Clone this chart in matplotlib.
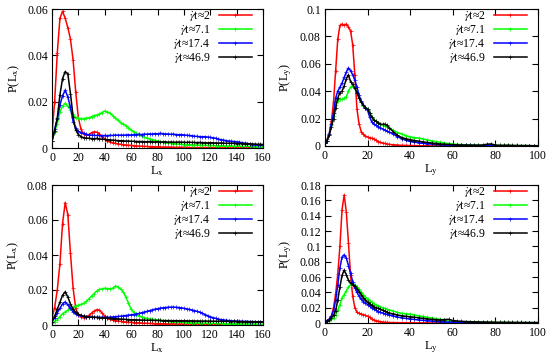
import numpy as np
import matplotlib
matplotlib.use('Agg')
import matplotlib.pyplot as plt
from matplotlib.ticker import FuncFormatter, MultipleLocator

plt.rcParams['font.family'] = 'serif'
plt.rcParams['font.serif'] = ['Liberation Serif', 'DejaVu Serif']
plt.rcParams['mathtext.fontset'] = 'stix'

# shear strains shown in the legend
labels = [r'$\dot{\gamma}$t≈2', r'$\dot{\gamma}$t≈7.1',
          r'$\dot{\gamma}$t≈17.4', r'$\dot{\gamma}$t≈46.9']
colors = ['#ff0000', '#00ff00', '#0000ff', '#000000']

# cluster sizes
lx = np.arange(0, 161, 2)
ly = np.concatenate([np.arange(0, 31), np.arange(32, 101, 2)])

# ---- top left: P(Lx) ----
tl_red = [0.006, 0.02, 0.041, 0.056, 0.059, 0.056, 0.052, 0.047, 0.038, 0.024,
          0.013, 0.008, 0.006, 0.0055, 0.0058, 0.0066, 0.007, 0.0068, 0.006, 0.0048,
          0.0038, 0.0032, 0.0027, 0.0023, 0.002, 0.0018, 0.0016, 0.0014, 0.0013, 0.0012,
          0.0011, 0.001, 0.0009, 0.0008, 0.0008, 0.0007, 0.0007, 0.0006, 0.0006, 0.0005,
          0.0005, 0.0005, 0.0004, 0.0004, 0.0004, 0.0004, 0.0003, 0.0003, 0.0003, 0.0003,
          0.0003, 0.0003, 0.0002, 0.0002, 0.0002, 0.0002, 0.0002, 0.0002, 0.0002, 0.0002,
          0.0002, 0.0002, 0.0001, 0.0001, 0.0001, 0.0001, 0.0001, 0.0001, 0.0001, 0.0001,
          0.0001, 0.0001, 0.0001, 0.0001, 0.0001, 0.0001, 0.0001, 0.0001, 0.0001, 0.0001,
          0.0001]
tl_green = [0.003, 0.007, 0.0105, 0.0157, 0.018, 0.0193, 0.018, 0.0165, 0.0145, 0.013,
            0.0128, 0.0127, 0.0127, 0.0128, 0.013, 0.0135, 0.014, 0.0142, 0.0147, 0.0153,
            0.016, 0.0155, 0.015, 0.014, 0.013, 0.012, 0.011, 0.0104, 0.0097, 0.0088,
            0.0078, 0.007, 0.0063, 0.0057, 0.0052, 0.0047, 0.0043, 0.0039, 0.0036, 0.0033,
            0.003, 0.0028, 0.0025, 0.0023, 0.0021, 0.002, 0.0019, 0.0018, 0.0017, 0.0016,
            0.0015, 0.0015, 0.0014, 0.0014, 0.0013, 0.0013, 0.0012, 0.0012, 0.0012, 0.0011,
            0.0011, 0.0011, 0.001, 0.001, 0.001, 0.0009, 0.0009, 0.0009, 0.0009, 0.0008,
            0.0008, 0.0008, 0.0008, 0.0007, 0.0007, 0.0007, 0.0007, 0.0006, 0.0006, 0.0006,
            0.0006]
tl_blue = [0.003, 0.008, 0.0125, 0.0186, 0.0225, 0.025, 0.022, 0.0175, 0.0114, 0.0085,
           0.0072, 0.0066, 0.0063, 0.0059, 0.0057, 0.0055, 0.0055, 0.0054, 0.0054, 0.0053,
           0.0054, 0.0053, 0.0055, 0.0054, 0.0056, 0.0055, 0.0056, 0.0055, 0.0056, 0.0057,
           0.0056, 0.0058, 0.0057, 0.0059, 0.0058, 0.006, 0.0059, 0.0061, 0.006, 0.0062,
           0.0061, 0.0063, 0.0062, 0.006, 0.0061, 0.0059, 0.006, 0.0058, 0.0057, 0.0058,
           0.0056, 0.0055, 0.0054, 0.0053, 0.0051, 0.005, 0.0049, 0.0048, 0.0049, 0.0047,
           0.0046, 0.0044, 0.0042, 0.0039, 0.0036, 0.0034, 0.0032, 0.003, 0.0029, 0.0028,
           0.0027, 0.0025, 0.0023, 0.0021, 0.0019, 0.0017, 0.0015, 0.0014, 0.0013, 0.0012,
           0.0012]
tl_black = [0.003, 0.0075, 0.013, 0.0229, 0.03, 0.033, 0.032, 0.0235, 0.0135, 0.0078,
            0.0058, 0.0049, 0.0045, 0.0043, 0.0042, 0.0041, 0.004, 0.0042, 0.0039, 0.0038,
            0.0037, 0.0036, 0.0035, 0.0034, 0.0033, 0.0032, 0.0031, 0.0031, 0.003, 0.003,
            0.0029, 0.0029, 0.0028, 0.0028, 0.0028, 0.0027, 0.0027, 0.0028, 0.0027, 0.0026,
            0.0027, 0.0026, 0.0026, 0.0027, 0.0025, 0.0026, 0.0025, 0.0025, 0.0026, 0.0025,
            0.0025, 0.0024, 0.0025, 0.0024, 0.0024, 0.0023, 0.0024, 0.0023, 0.0023, 0.0022,
            0.0023, 0.0022, 0.0022, 0.0021, 0.0022, 0.0021, 0.002, 0.0021, 0.002, 0.002,
            0.0019, 0.002, 0.0019, 0.0018, 0.0019, 0.0018, 0.0017, 0.0017, 0.0016, 0.0016,
            0.0015]

# ---- top right: P(Ly) ----
tr_red = [0.003, 0.005, 0.009, 0.018, 0.032, 0.055, 0.078, 0.088, 0.089, 0.088,
          0.089, 0.087, 0.084, 0.074, 0.052, 0.027, 0.016, 0.0105, 0.0085, 0.0072,
          0.0066, 0.006, 0.0057, 0.0052, 0.0042, 0.0032, 0.0026, 0.0022, 0.0019, 0.0015,
          0.0012,
          0.0009, 0.0007, 0.0005, 0.0004, 0.0003, 0.0003, 0.0002, 0.0002, 0.0002, 0.0001,
          0.0001, 0.0001, 0.0001, 0.0001, 0.0001, 0.0001, 0.0001, 0.0001, 0.0001, 0.0001,
          0.0001, 0.0001, 0.0001, 0.0001, 0.0001, 0.0001, 0.0001, 0.0001, 0.0001, 0.0001,
          0.0001, 0.0001, 0.0001, 0.0001, 0.0001]
tr_green = [0.002, 0.004, 0.008, 0.015, 0.022, 0.03, 0.033, 0.034, 0.034, 0.035,
            0.036, 0.04, 0.043, 0.044, 0.042, 0.039, 0.035, 0.032, 0.029, 0.028,
            0.027, 0.024, 0.021, 0.019, 0.018, 0.017, 0.016, 0.015, 0.0145, 0.014,
            0.0135,
            0.0115, 0.0098, 0.0088, 0.0075, 0.0066, 0.0061, 0.0058, 0.0052, 0.0045, 0.0038,
            0.0032, 0.0027, 0.0022, 0.0018, 0.0014, 0.0012, 0.001, 0.0009, 0.0008, 0.0007,
            0.0006, 0.0006, 0.0005, 0.0005, 0.0005, 0.0004, 0.0004, 0.0004, 0.0003, 0.0003,
            0.0003, 0.0003, 0.0002, 0.0002, 0.0002]
tr_blue = [0.002, 0.004, 0.009, 0.016, 0.024, 0.035, 0.04, 0.043, 0.046, 0.05,
           0.054, 0.057, 0.055, 0.052, 0.048, 0.043, 0.037, 0.033, 0.03, 0.028,
           0.026, 0.021, 0.0175, 0.016, 0.015, 0.0142, 0.0133, 0.0125, 0.0117, 0.011,
           0.0103,
           0.0088, 0.0068, 0.0054, 0.0042, 0.0033, 0.0028, 0.0024, 0.002, 0.0017, 0.0015,
           0.0012, 0.001, 0.0008, 0.0007, 0.0006, 0.0005, 0.0005, 0.0004, 0.0004, 0.0003,
           0.0003, 0.0003, 0.0003, 0.0002, 0.0002, 0.0002, 0.0002, 0.0002, 0.0001, 0.0001,
           0.0001, 0.0001, 0.0001, 0.0001, 0.0001]
tr_black = [0.002, 0.004, 0.008, 0.014, 0.02, 0.028, 0.035, 0.039, 0.04, 0.044,
            0.049, 0.052, 0.047, 0.045, 0.042, 0.039, 0.035, 0.032, 0.03, 0.028,
            0.027, 0.024, 0.021, 0.019, 0.018, 0.017, 0.016, 0.0158, 0.016, 0.015,
            0.0135,
            0.0105, 0.0078, 0.0062, 0.0053, 0.0046, 0.004, 0.0035, 0.003, 0.0026, 0.0022,
            0.0018, 0.0015, 0.0013, 0.0011, 0.001, 0.0008, 0.0007, 0.0007, 0.0006, 0.0006,
            0.0006, 0.0007, 0.0013, 0.0015, 0.0007, 0.0005, 0.0005, 0.0006, 0.0004, 0.0004,
            0.0003, 0.0003, 0.0003, 0.0002, 0.0002]

# ---- bottom left: P(Lx) ----
bl_red = [0.004, 0.01, 0.02, 0.035, 0.058, 0.07, 0.063, 0.041, 0.021, 0.0095,
          0.006, 0.0048, 0.0042, 0.0045, 0.0055, 0.0068, 0.008, 0.0088, 0.0085, 0.0068,
          0.005, 0.0038, 0.0032, 0.0028, 0.0025, 0.0023, 0.0021, 0.0019, 0.0017, 0.0016,
          0.0015, 0.0014, 0.0013, 0.0012, 0.0011, 0.001, 0.001, 0.0009, 0.0009, 0.0008,
          0.0008, 0.0007, 0.0007, 0.0007, 0.0006, 0.0006, 0.0006, 0.0006, 0.0005, 0.0005,
          0.0005, 0.0005, 0.0004, 0.0004, 0.0004, 0.0004, 0.0004, 0.0003, 0.0003, 0.0003,
          0.0003, 0.0003, 0.0003, 0.0003, 0.0002, 0.0002, 0.0002, 0.0002, 0.0002, 0.0002,
          0.0002, 0.0002, 0.0002, 0.0002, 0.0002, 0.0002, 0.0002, 0.0002, 0.0002, 0.0002,
          0.0002]
bl_green = [0.001, 0.002, 0.003, 0.0048, 0.0065, 0.0075, 0.0085, 0.0095, 0.0102, 0.0108,
            0.0113, 0.0118, 0.0124, 0.0135, 0.015, 0.0165, 0.018, 0.0195, 0.0203, 0.0207,
            0.021, 0.0208, 0.0207, 0.021, 0.0222, 0.0218, 0.0205, 0.019, 0.016, 0.0125,
            0.009, 0.0072, 0.006, 0.0052, 0.0046, 0.0042, 0.0038, 0.0035, 0.0033, 0.0031,
            0.0029, 0.0027, 0.0025, 0.0023, 0.0022, 0.002, 0.0019, 0.0018, 0.0017, 0.0016,
            0.0015, 0.0014, 0.0014, 0.0013, 0.0013, 0.0012, 0.0012, 0.0011, 0.0011, 0.001,
            0.001, 0.001, 0.0009, 0.0009, 0.0009, 0.0008, 0.0008, 0.0008, 0.0008, 0.0007,
            0.0007, 0.0007, 0.0007, 0.0006, 0.0006, 0.0006, 0.0006, 0.0005, 0.0005, 0.0005,
            0.0005]
bl_blue = [0.002, 0.004, 0.007, 0.0095, 0.012, 0.0132, 0.0115, 0.0095, 0.0075, 0.0063,
           0.0057, 0.0053, 0.005, 0.0048, 0.0046, 0.0045, 0.0044, 0.0044, 0.0044, 0.0044,
           0.0044, 0.0044, 0.0045, 0.0046, 0.0047, 0.0049, 0.005, 0.0052, 0.0054, 0.0056,
           0.0058, 0.006, 0.0063, 0.0066, 0.007, 0.0074, 0.0078, 0.0082, 0.0086, 0.009,
           0.0093, 0.0096, 0.0098, 0.01, 0.0101, 0.0102, 0.0102, 0.0101, 0.01, 0.0098,
           0.0095, 0.0092, 0.0089, 0.0086, 0.0082, 0.0078, 0.0073, 0.0067, 0.006, 0.0053,
           0.0047, 0.0042, 0.0038, 0.0034, 0.0031, 0.0029, 0.0027, 0.0025, 0.0024, 0.0023,
           0.0022, 0.0021, 0.0021, 0.002, 0.002, 0.0019, 0.0019, 0.0018, 0.0018, 0.0017,
           0.0017]
bl_black = [0.002, 0.005, 0.009, 0.013, 0.017, 0.019, 0.016, 0.012, 0.009, 0.0072,
            0.0062, 0.0055, 0.005, 0.0048, 0.0046, 0.0045, 0.0044, 0.0043, 0.0042, 0.0041,
            0.004, 0.0039, 0.0038, 0.0037, 0.0036, 0.0035, 0.0034, 0.0033, 0.0032, 0.0031,
            0.003, 0.003, 0.0029, 0.0029, 0.0028, 0.0028, 0.0027, 0.0027, 0.0027, 0.0026,
            0.0026, 0.0026, 0.0025, 0.0025, 0.0025, 0.0025, 0.0024, 0.0025, 0.0024, 0.0024,
            0.0024, 0.0024, 0.0023, 0.0024, 0.0023, 0.0023, 0.0023, 0.0022, 0.0023, 0.0022,
            0.0022, 0.0022, 0.0022, 0.0021, 0.0022, 0.0021, 0.0021, 0.0021, 0.002, 0.0021,
            0.002, 0.002, 0.002, 0.0019, 0.002, 0.0019, 0.0019, 0.0019, 0.0018, 0.0018,
            0.0018]

# ---- bottom right: P(Ly) ----
br_red = [0.002, 0.003, 0.005, 0.009, 0.02, 0.038, 0.064, 0.1, 0.148, 0.167,
          0.145, 0.105, 0.062, 0.035, 0.02, 0.014, 0.0125, 0.0115, 0.011, 0.0098,
          0.0088, 0.0072, 0.0052, 0.004, 0.003, 0.0023, 0.0018, 0.0014, 0.001, 0.0008,
          0.0006,
          0.0005, 0.0004, 0.0003, 0.0003, 0.0002, 0.0002, 0.0002, 0.0002, 0.0001, 0.0001,
          0.0001, 0.0001, 0.0001, 0.0001, 0.0001, 0.0001, 0.0001, 0.0001, 0.0001, 0.0001,
          0.0001, 0.0001, 0.0001, 0.0001, 0.0001, 0.0001, 0.0001, 0.0001, 0.0001, 0.0001,
          0.0001, 0.0001, 0.0001, 0.0001, 0.0001]
br_green = [0.001, 0.002, 0.003, 0.005, 0.007, 0.011, 0.017, 0.024, 0.033, 0.037,
            0.042, 0.047, 0.05, 0.051, 0.05, 0.047, 0.044, 0.04, 0.037, 0.034,
            0.031, 0.029, 0.027, 0.025, 0.0235, 0.022, 0.021, 0.02, 0.019, 0.018,
            0.017,
            0.0158, 0.0138, 0.0125, 0.012, 0.0115, 0.0105, 0.0095, 0.0085, 0.0075, 0.0065,
            0.0058, 0.0048, 0.0038, 0.0028, 0.002, 0.0017, 0.0015, 0.0013, 0.0012, 0.0011,
            0.001, 0.0009, 0.0009, 0.0008, 0.0008, 0.0007, 0.0007, 0.0006, 0.0006, 0.0006,
            0.0005, 0.0005, 0.0005, 0.0005, 0.0004]
br_blue = [0.002, 0.003, 0.005, 0.009, 0.016, 0.03, 0.05, 0.072, 0.086, 0.089,
           0.085, 0.075, 0.065, 0.054, 0.046, 0.04, 0.035, 0.031, 0.028, 0.026,
           0.024, 0.022, 0.02, 0.018, 0.0165, 0.015, 0.014, 0.013, 0.0122, 0.0113,
           0.0105,
           0.0092, 0.0078, 0.0068, 0.006, 0.0053, 0.0046, 0.004, 0.0035, 0.003, 0.0026,
           0.0022, 0.0018, 0.0015, 0.0012, 0.001, 0.0008, 0.0007, 0.0006, 0.0005, 0.0005,
           0.0004, 0.0004, 0.0003, 0.0003, 0.0003, 0.0003, 0.0002, 0.0002, 0.0002, 0.0002,
           0.0002, 0.0002, 0.0001, 0.0001, 0.0001]
br_black = [0.001, 0.002, 0.004, 0.007, 0.01, 0.016, 0.03, 0.047, 0.062, 0.069,
            0.063, 0.056, 0.052, 0.05, 0.048, 0.045, 0.041, 0.037, 0.033, 0.03,
            0.027, 0.025, 0.023, 0.021, 0.02, 0.019, 0.018, 0.0165, 0.0155, 0.0145,
            0.013,
            0.012, 0.0105, 0.0095, 0.0088, 0.0082, 0.0075, 0.0068, 0.0061, 0.0054, 0.0048,
            0.0043, 0.004, 0.0045, 0.0048, 0.0032, 0.0026, 0.0022, 0.0019, 0.0017, 0.0015,
            0.0014, 0.0013, 0.0012, 0.0011, 0.001, 0.0009, 0.0009, 0.0008, 0.0008, 0.0007,
            0.0007, 0.0006, 0.0006, 0.0006, 0.0006]

# panel setup: position (pixels: left, top, right, bottom), x data, series, limits
panels = [
    ((52, 9, 263, 148), lx, [tl_red, tl_green, tl_blue, tl_black], 160, 0.06, 'x'),
    ((325, 9, 538, 146), ly, [tr_red, tr_green, tr_blue, tr_black], 100, 0.1, 'y'),
    ((52, 185, 263, 325), lx, [bl_red, bl_green, bl_blue, bl_black], 160, 0.08, 'x'),
    ((325, 185, 538, 323), ly, [br_red, br_green, br_blue, br_black], 100, 0.18, 'y'),
]

W, H = 550, 357
fig = plt.figure(figsize=(W / 100, H / 100), dpi=100)

def fmt(v, pos):
    return '%g' % round(v, 4)

for (l, t, r, b), xs, series, xmax, ymax, ax_name in panels:
    ax = fig.add_axes([l / W, 1 - b / H, (r - l) / W, (b - t) / H])
    for ys, c, lab in zip(series, colors, labels):
        ax.plot(xs, ys, color=c, lw=1.1, marker='+', ms=2.2, mew=0.5, label=lab)
    ax.set_xlim(0, xmax)
    ax.set_ylim(0, ymax)
    ax.xaxis.set_major_locator(MultipleLocator(20))
    ax.yaxis.set_major_locator(MultipleLocator(0.02))
    ax.yaxis.set_major_formatter(FuncFormatter(fmt))
    ax.tick_params(direction='in', top=True, right=True, length=4, width=0.8,
                   labelsize=8.5, pad=3)
    for s in ax.spines.values():
        s.set_linewidth(0.8)
    ax.set_xlabel(r'L$_{\rm %s}$' % ax_name, fontsize=9, labelpad=0)
    ax.set_ylabel(r'P(L$_{\rm %s}$)' % ax_name, fontsize=9, labelpad=4)

    # markerfirst=False puts the sample line after the label, labels right-aligned
    ax.legend(loc='upper right', bbox_to_anchor=(0.955, 1.015), frameon=False,
              markerfirst=False, handlelength=2.8, fontsize=8.5, labelspacing=0.0,
              borderpad=0.15, borderaxespad=0.0, handletextpad=0.7)

fig.savefig('out.png', dpi=100)
